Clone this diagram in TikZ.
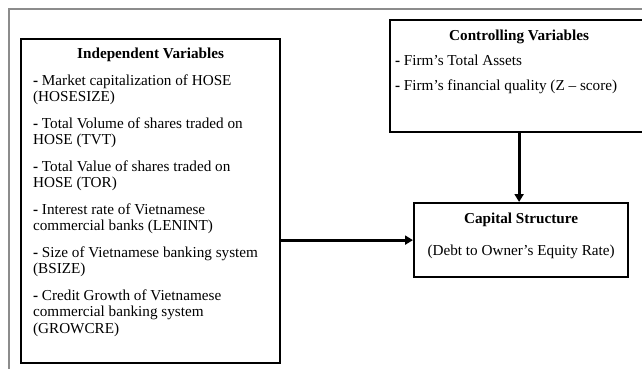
\documentclass[tikz,border=0pt]{standalone}
\usepackage{fontspec}
\setmainfont{Liberation Serif}
\usetikzlibrary{arrows.meta}
\newcommand{\itemdash}{\textbf{-} }

\begin{document}
\begin{tikzpicture}[x=1pt,y=-1pt,
    panel/.style={draw,line width=2.2pt,inner sep=0pt,anchor=north west},
    link/.style={line width=3pt,-{Triangle[width=9pt,length=8pt]}},
    frame/.style={draw=black!45,line width=1.2pt}]
  \useasboundingbox (0,0) rectangle (642,368);
  \draw[frame] (9,400) -- (9,9) -- (660,9);
  \node[panel] (indep) at (20,38) {\parbox[c][324pt][t]{259pt}{\fontsize{15.2}{16.5}\selectfont
      \leftskip=12pt\rightskip=0pt plus 1fil
      {\centering\bfseries\rule{0pt}{19.5pt}Independent Variables\par}
      \setlength{\parskip}{10pt}
      \itemdash Market capitalization of HOSE\\(HOSESIZE)\par
      \itemdash Total Volume of shares traded on\\HOSE (TVT)\par
      \itemdash Total Value of shares traded on\\HOSE (TOR)\par
      \itemdash Interest rate of Vietnamese\\commercial banks (LENINT)\par
      \itemdash Size of Vietnamese banking system\\(BSIZE)\par
      \itemdash Credit Growth of Vietnamese\\commercial banking system\\(GROWCRE)\par}};
  \node[panel] (control) at (389,19) {\parbox[c][112pt][t]{258pt}{\fontsize{15.2}{16.5}\selectfont
      \leftskip=5pt\rightskip=0pt plus 1fil
      {\centering\bfseries\rule{0pt}{20pt}Controlling Variables\par}
      \setlength{\parskip}{8.5pt}
      \itemdash Firm’s Total Assets\par
      \itemdash Firm’s financial quality (Z – score)\par}};
  \node[panel] (capital) at (413,202) {\parbox[c][74pt][t]{214pt}{\fontsize{15.2}{16.5}\selectfont
      \centering
      {\bfseries\rule{0pt}{20pt}Capital Structure\par}
      \setlength{\parskip}{15.5pt}
      (Debt to Owner’s Equity Rate)\par}};
  \draw[link] (capital.west -| indep.east) -- (capital.west);
  \draw[link] (control.south) -- (control.south |- capital.north);
\end{tikzpicture}
\end{document}
